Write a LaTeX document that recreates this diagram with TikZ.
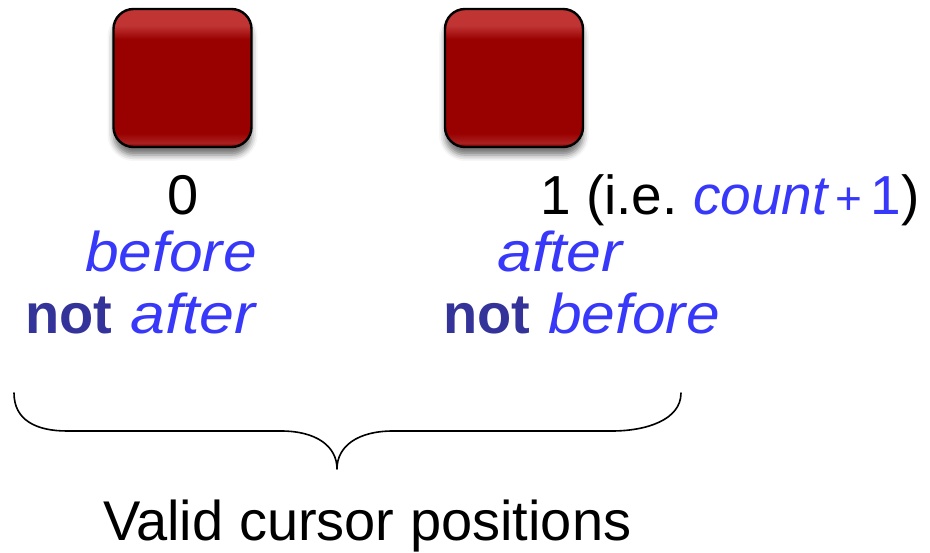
\documentclass[tikz,border=0pt]{standalone}
\usepackage{fontspec}
\setmainfont{Liberation Sans}
\usetikzlibrary{shadows.blur}

\definecolor{kwblue}{RGB}{56,56,250}
\definecolor{kwnavy}{RGB}{51,51,153}
\definecolor{boxbase}{RGB}{153,0,0}
\definecolor{boxtop}{RGB}{192,52,52}
\definecolor{boxlow}{RGB}{170,32,32}
\definecolor{boxrim}{RGB}{120,0,0}

% glossy key face: light band on top, flat body, thin light band at the bottom
\pgfdeclareverticalshading{redkey}{100bp}{color(0bp)=(boxrim); color(25bp)=(boxrim);
  color(26.5bp)=(boxlow); color(30bp)=(boxbase); color(64bp)=(boxbase);
  color(69bp)=(boxtop); color(75bp)=(boxtop); color(100bp)=(boxtop)}

\begin{document}
\begin{tikzpicture}[x=1pt,y=-1pt,
  key/.style={draw=black, line width=2.4pt, rounded corners=20pt,
    minimum width=138pt, minimum height=138pt, inner sep=0pt, shading=redkey,
    blur shadow={shadow xshift=0pt, shadow yshift=-8pt,
      shadow blur radius=6pt, shadow opacity=55}},
  lbl/.style={inner sep=0pt, anchor=base west, font=\fontsize{56}{60}\selectfont},
  kw/.style={lbl, text=kwblue, font=\fontsize{56}{60}\selectfont\itshape},
  neg/.style={lbl, text=kwnavy, font=\fontsize{56}{60}\selectfont\bfseries},
  bracepen/.style={line width=1.6pt, line cap=round, line join=round}]

\useasboundingbox (0,0) rectangle (930,553);

% the two elements
\node[key] (s0) at (182.5,78) {};
\node[key] (s1) at (514,78) {};

% position 0
\node[lbl] (p0) at (167.5,215) {0};
\node[kw]  (p0a) at (85,272) {\scalebox{1.08}[1]{before}};
\node[neg] (p0b) at (25,334) {not};
\node[kw]  (p0c) at (130,334) {\scalebox{1.12}[1]{after}};

% position 1
\node[lbl, font=\fontsize{55}{58}\selectfont] (p1) at (540,215)
  {1 (i.e.\ \textcolor{kwblue}{\itshape count}\hspace{8pt}\textcolor{kwblue}{{\fontsize{46}{48}\selectfont +}\hspace{8pt}1})};
\node[kw]  (p1a) at (497,272) {\scalebox{1.12}[1]{after}};
\node[neg] (p1b) at (443,334) {not};
\node[kw]  (p1c) at (548,334) {\scalebox{1.08}[1]{before}};

% brace gathering both positions
\coordinate (bl) at (14,393);
\coordinate (br) at (681,393);
\coordinate (tip) at (337,469);
\draw[bracepen] (bl) .. controls (14,420) and (36,431) .. (67,431) -- (281,431)
  .. controls (316,431) and (337,446) .. (tip)
  .. controls (337,446) and (358,431) .. (393,431) -- (612,431)
  .. controls (646,431) and (681,420) .. (br);

\node[lbl] (cap) at (103,540) {Valid cursor positions};
\end{tikzpicture}
\end{document}
